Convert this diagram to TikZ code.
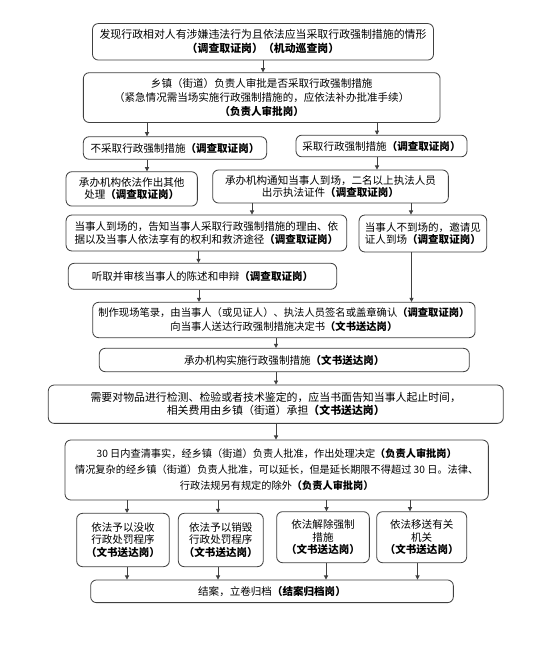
\documentclass[tikz,border=0pt]{standalone}
\usepackage{fontspec}
\setmainfont{Noto Sans CJK SC}
\usetikzlibrary{arrows.meta}
\newcommand\gang[1]{\textbf{（#1）}}
\begin{document}
\begin{tikzpicture}[x=0.03cm,y=-0.03cm,
  >={Triangle[length=3.5pt,width=3.5pt]},
  box/.style={draw=black!75,line width=0.7pt,rounded corners=5pt,align=center,inner sep=0pt,
    font=\fontsize{9pt}{12pt}\selectfont},
  lsp/.style={font=\fontsize{9pt}{#1}\selectfont},
  link/.style={->,draw=black!75,line width=0.7pt}]
  \useasboundingbox[fill=white] (0,0) rectangle (535,649);

  \node[box,font=\fontsize{9.3pt}{12pt}\selectfont,minimum width=10.23cm,minimum height=1.095cm] (b0) at (263,41.8)
    {发现行政相对人有涉嫌违法行为且依法应当采取行政强制措施的情形\\\gang{调查取证岗}\gang{机动巡查岗}};
  \node[box,minimum width=10.70cm,minimum height=1.494cm] (b1) at (261.7,97.6)
    {乡镇（街道）负责人审批是否采取行政强制措施\\（紧急情况需当场实施行政强制措施的，应依法补办批准手续）\\\gang{负责人审批岗}};
  \node[box,minimum width=5.50cm,minimum height=0.678cm] (b2) at (175,148) {不采取行政强制措施\gang{调查取证岗}};
  \node[box,minimum width=5.13cm,minimum height=0.65cm] (b3) at (381.5,146) {采取行政强制措施\gang{调查取证岗}};
  \node[box,lsp=10pt,minimum width=3.94cm,minimum height=1.03cm] (b4) at (131.7,188.9)
    {承办机构依法作出其他\\处理\gang{调查取证岗}};
  \node[box,lsp=10.5pt,minimum width=7.07cm,minimum height=0.99cm] (b5) at (330.5,186.5)
    {承办机构通知当事人到场，二名以上执法人员\\出示执法证件\gang{调查取证岗}};
  \node[box,lsp=10.8pt,minimum width=8.42cm,minimum height=1.08cm] (b6) at (206.4,233)
    {当事人到场的，告知当事人采取行政强制措施的理由、依\\据以及当事人依法享有的权利和救济途径\gang{调查取证岗}};
  \node[box,lsp=10.8pt,minimum width=3.83cm,minimum height=1.11cm] (b7) at (422.9,233.5)
    {当事人不到场的，邀请见\\证人到场\gang{调查取证岗}};
  \node[box,minimum width=8.05cm,minimum height=0.78cm] (b8) at (202.5,276.3) {听取并审核当事人的陈述和申辩\gang{调查取证岗}};
  \node[box,font=\fontsize{8.8pt}{12pt}\selectfont,minimum width=11.47cm,minimum height=1.06cm] (b9) at (283.9,320)
    {制作现场笔录，由当事人（或见证人）、执法人员签名或盖章确认\gang{调查取证岗}\\向当事人送达行政强制措施决定书\gang{文书送达岗}};
  \node[box,minimum width=11.10cm,minimum height=0.70cm] (b10) at (284.3,360) {承办机构实施行政强制措施\gang{文书送达岗}};
  \node[box,font=\fontsize{9.3pt}{11.4pt}\selectfont,minimum width=13.65cm,minimum height=1.15cm] (b11) at (275.8,404.2)
    {需要对物品进行检测、检验或者技术鉴定的，应当书面告知当事人起止时间，\\相关费用由乡镇（街道）承担\gang{文书送达岗}};
  \node[box,font=\fontsize{8.7pt}{13.6pt}\selectfont,minimum width=12.70cm,minimum height=1.80cm] (b12) at (276.7,470)
    {30 日内查清事实，经乡镇（街道）负责人批准，作出处理决定\gang{负责人审批岗}\\情况复杂的经乡镇（街道）负责人批准，可以延长，但是延长期限不得超过 30 日。法律、\\行政法规另有规定的除外\gang{负责人审批岗}};
  \node[box,lsp=10.5pt,minimum width=2.78cm,minimum height=1.60cm] (b13) at (123,540) {依法予以没收\\行政处罚程序\\\gang{文书送达岗}};
  \node[box,lsp=10.5pt,minimum width=2.55cm,minimum height=1.60cm] (b14) at (220.8,540) {依法予以销毁\\行政处罚程序\\\gang{文书送达岗}};
  \node[box,lsp=10.5pt,minimum width=2.78cm,minimum height=1.53cm] (b15) at (323,537.2) {依法解除强制\\措施\\\gang{文书送达岗}};
  \node[box,lsp=10.5pt,minimum width=2.70cm,minimum height=1.53cm] (b16) at (421.7,537.2) {依法移送有关\\机关\\\gang{文书送达岗}};
  \node[box,minimum width=10.88cm,minimum height=0.68cm] (b17) at (272,591.3) {结案，立卷归档\gang{结案归档岗}};

  \draw[link] (b0.south -| 263,0) -- (b1.north -| 263,0);
  \draw[link] (b1.south -| 147,0) -- (b2.north -| 147,0);
  \draw[link] (b1.south -| 377,0) -- (b3.north -| 377,0);
  \draw[link] (b2.south -| 147,0) -- (b4.north -| 147,0);
  \draw[link] (b3.south -| 377,0) -- (b5.north -| 377,0);
  \draw[link] (b5.south -| 252,0) -- (b6.north -| 252,0);
  \draw[link] (b5.south -| 411,0) -- (b7.north -| 411,0);
  \draw[link] (b6.south -| 198.5,0) -- (b8.north -| 198.5,0);
  \draw[link] (b8.south -| 199,0) -- (b9.north -| 199,0);
  \draw[link] (b7.south -| 411.5,0) -- (b9.north -| 411.5,0);
  \draw[link] (b9.south -| 276,0) -- (b10.north -| 276,0);
  \draw[link] (b10.south -| 276,0) -- (b11.north -| 276,0);
  \draw[link] (b11.south -| 276,0) -- (b12.north -| 276,0);

  \draw[link] (b12.south -| 127,0) -- (b13.north -| 127,0);
  \draw[link] (b12.south -| 218,0) -- (b14.north -| 218,0);
  \draw[link] (b12.south -| 326.5,0) -- (b15.north -| 326.5,0);
  \draw[link] (b12.south -| 410,0) -- (b16.north -| 410,0);
  \draw[link] (b13.south -| 127,0) -- (b17.north -| 127,0);
  \draw[link] (b14.south -| 218,0) -- (b17.north -| 218,0);
  \draw[link] (b15.south -| 326,0) -- (b17.north -| 326,0);
  \draw[link] (b16.south -| 417.5,0) -- (b17.north -| 417.5,0);
\end{tikzpicture}
\end{document}
